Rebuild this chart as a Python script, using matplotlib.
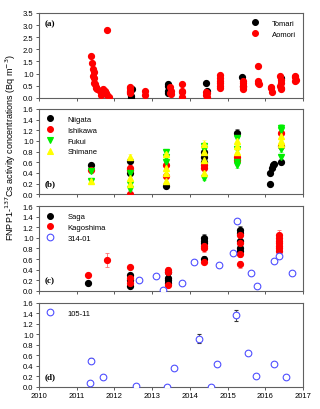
import numpy as np
import matplotlib
matplotlib.use('Agg')
import matplotlib.pyplot as plt
from matplotlib.lines import Line2D

plt.rcParams['font.family'] = ['Liberation Sans', 'DejaVu Sans']

# ---- panel (a) ----
tomari_x = [2012.44, 2012.45, 2012.46, 2013.41, 2013.42, 2013.43, 2013.42, 2014.44, 2014.45, 2015.39, 2015.40, 2016.41]
tomari_y = [0.00, 0.08, 0.35, 0.55, 0.50, 0.30, 0.20, 0.60, 0.30, 0.85, 0.50, 0.80]
tomari_e = [0.03, 0.03, 0.05, 0.05, 0.05, 0.04, 0.04, 0.05, 0.04, 0.06, 0.05, 0.06]

aomori_x = [2011.37, 2011.41, 2011.44, 2011.45, 2011.43, 2011.46, 2011.47, 2011.48, 2011.50, 2011.52,
            2011.55, 2011.62, 2011.65, 2011.70, 2011.75, 2011.78, 2011.80, 2011.85, 2011.80,
            2012.40, 2012.41, 2012.42, 2012.40, 2012.41, 2012.80, 2012.81,
            2013.48, 2013.49, 2013.48, 2013.50, 2013.79, 2013.80, 2013.79, 2013.80,
            2014.44, 2014.45, 2014.44, 2014.46,
            2014.80, 2014.81, 2014.80, 2014.81, 2014.80, 2014.81,
            2015.40, 2015.41, 2015.40, 2015.41, 2015.40,
            2015.81, 2015.80, 2015.81, 2015.82,
            2016.15, 2016.16, 2016.17,
            2016.40, 2016.41, 2016.42, 2016.40, 2016.41, 2016.42,
            2016.79, 2016.80, 2016.81, 2016.80]
aomori_y = [1.72, 1.45, 1.20, 1.05, 0.92, 0.80, 0.62, 0.55, 0.45, 0.40,
            0.35, 0.30, 0.10, 0.35, 0.30, 0.20, 0.12, 0.05, 2.80,
            0.45, 0.40, 0.30, 0.25, 0.20, 0.30, 0.10,
            0.45, 0.30, 0.20, 0.15, 0.55, 0.30, 0.25, 0.05,
            0.25, 0.20, 0.10, 0.05,
            0.95, 0.80, 0.70, 0.60, 0.50, 0.40,
            0.70, 0.60, 0.50, 0.45, 0.35,
            1.32, 0.70, 0.60, 0.55,
            0.45, 0.40, 0.25,
            0.90, 0.75, 0.60, 0.50, 0.40, 0.35,
            0.90, 0.85, 0.75, 0.70]
aomori_e = [0.06, 0.05, 0.05, 0.05, 0.05, 0.04, 0.04, 0.04, 0.04, 0.04,
            0.04, 0.04, 0.03, 0.04, 0.04, 0.03, 0.03, 0.03, 0.08,
            0.05, 0.04, 0.04, 0.04, 0.04, 0.04, 0.03,
            0.05, 0.04, 0.04, 0.04, 0.05, 0.04, 0.04, 0.03,
            0.04, 0.04, 0.03, 0.03,
            0.08, 0.06, 0.06, 0.05, 0.05, 0.05,
            0.06, 0.05, 0.05, 0.05, 0.04,
            0.09, 0.06, 0.05, 0.05,
            0.05, 0.05, 0.04,
            0.07, 0.06, 0.05, 0.05, 0.05, 0.04,
            0.07, 0.06, 0.06, 0.06]

# ---- panel (b) ----
niigata_x = [2011.37, 2012.42, 2012.42, 2013.37, 2014.37, 2014.37, 2014.38, 2015.26, 2016.12, 2016.13, 2016.19, 2016.20, 2016.22, 2016.41]
niigata_y = [0.55, 0.62, 0.40, 0.15, 0.80, 0.70, 0.60, 1.15, 0.20, 0.40, 0.50, 0.55, 0.57, 0.60]
niigata_e = [0.04, 0.04, 0.04, 0.03, 0.05, 0.05, 0.04, 0.08, 0.03, 0.04, 0.04, 0.04, 0.04, 0.04]

ishikawa_x = [2011.37, 2012.42, 2012.42, 2012.42, 2013.37, 2013.37, 2014.38, 2014.38, 2015.26, 2015.26, 2016.41, 2016.41]
ishikawa_y = [0.45, 0.50, 0.45, 0.00, 0.55, 0.35, 0.55, 0.50, 0.70, 0.65, 1.15, 0.90]
ishikawa_e = [0.04, 0.04, 0.04, 0.02, 0.05, 0.04, 0.05, 0.05, 0.06, 0.06, 0.07, 0.06]

fukui_x = [2011.37, 2011.37, 2012.42, 2012.42, 2012.42, 2013.37, 2013.37, 2013.37, 2014.38, 2014.38, 2014.38, 2015.26, 2015.26, 2015.26, 2015.26, 2016.41, 2016.41, 2016.41, 2016.41]
fukui_y = [0.43, 0.25, 0.40, 0.20, 0.10, 0.80, 0.70, 0.60, 0.90, 0.85, 0.30, 1.05, 0.85, 0.60, 0.55, 1.25, 1.20, 0.85, 0.70]
fukui_e = [0.04, 0.03, 0.04, 0.03, 0.03, 0.05, 0.05, 0.05, 0.06, 0.06, 0.04, 0.07, 0.06, 0.05, 0.05, 0.07, 0.07, 0.06, 0.05]

shimane_x = [2011.37, 2012.42, 2012.42, 2012.42, 2013.37, 2013.37, 2013.37, 2013.37, 2014.38, 2014.38, 2014.38, 2014.38, 2015.26, 2015.26, 2015.26, 2016.41, 2016.41, 2016.41]
shimane_y = [0.25, 0.70, 0.30, 0.20, 0.75, 0.50, 0.40, 0.25, 0.95, 0.80, 0.65, 0.40, 1.00, 0.90, 0.80, 1.10, 1.00, 0.95]
shimane_e = [0.03, 0.06, 0.04, 0.03, 0.05, 0.05, 0.04, 0.04, 0.06, 0.05, 0.05, 0.04, 0.07, 0.06, 0.06, 0.07, 0.07, 0.06]

# ---- panel (c) ----
saga_x = [2011.30, 2012.42, 2012.42, 2012.42, 2013.43, 2013.43, 2013.43, 2013.43, 2014.38, 2014.38, 2014.38, 2014.38,
          2015.33, 2015.33, 2015.33, 2015.33, 2015.33]
saga_y = [0.15, 0.30, 0.20, 0.10, 0.35, 0.25, 0.20, 0.15, 1.00, 0.95, 0.90, 0.60, 1.15, 1.10, 0.95, 0.80, 0.75]
saga_e = [0.03, 0.04, 0.03, 0.03, 0.05, 0.04, 0.04, 0.03, 0.07, 0.06, 0.06, 0.05, 0.08, 0.07, 0.07, 0.06, 0.06]

kago_x = [2011.30, 2011.79, 2012.42, 2012.42, 2012.42, 2013.43, 2013.43, 2013.43, 2014.38, 2014.38, 2014.38,
          2015.33, 2015.33, 2015.33, 2015.33, 2016.37, 2016.37, 2016.37, 2016.37, 2016.37, 2016.37, 2016.37]
kago_y = [0.30, 0.58, 0.45, 0.25, 0.15, 0.40, 0.35, 0.12, 0.85, 0.80, 0.55,
          1.05, 0.90, 0.70, 0.50, 1.05, 1.00, 0.95, 0.90, 0.85, 0.80, 0.75]
kago_e = [0.03, 0.13, 0.04, 0.03, 0.03, 0.05, 0.04, 0.03, 0.06, 0.06, 0.05,
          0.07, 0.07, 0.06, 0.06, 0.10, 0.07, 0.07, 0.06, 0.06, 0.06, 0.06]

st314_x = [2012.64, 2013.10, 2013.28, 2013.79, 2014.11, 2014.78, 2015.13, 2015.26, 2015.61, 2015.78, 2016.23, 2016.37, 2016.71]
st314_y = [0.20, 0.28, 0.02, 0.14, 0.54, 0.48, 0.72, 1.32, 0.33, 0.09, 0.57, 0.65, 0.33]

# ---- panel (d) ----
st105_x = [2011.35, 2011.38, 2011.70, 2012.58, 2013.39, 2013.58, 2014.23, 2014.56, 2014.73, 2015.22, 2015.55, 2015.75, 2016.23, 2016.54]
st105_y = [0.08, 0.50, 0.18, 0.01, 0.00, 0.36, 0.92, 0.00, 0.44, 1.36, 0.64, 0.20, 0.43, 0.19]
st105_e = [0.00, 0.05, 0.00, 0.00, 0.00, 0.03, 0.08, 0.00, 0.03, 0.10, 0.00, 0.00, 0.00, 0.00]

years = [2010, 2011, 2012, 2013, 2014, 2015, 2016, 2017]

fs = 5.5
ms = 4.2
frame = '#606060'
blue = '#5050ff'


def style(ax, ymax, ystep, show_x):
    ax.set_xlim(2010, 2017)
    ax.set_ylim(0, ymax)
    ax.set_xticks(years)
    ax.set_yticks(np.arange(0, ymax + 0.001, ystep))
    ax.yaxis.set_major_formatter(matplotlib.ticker.FormatStrFormatter('%.1f'))
    ax.tick_params(labelsize=fs, length=2.5, width=0.6, pad=1.5, color='#404040')
    if not show_x:
        ax.set_xticklabels([])
    for s in ax.spines.values():
        s.set_color(frame)
        s.set_linewidth(0.8)


def eb(ax, x, y, e, color, marker, ecolor):
    ax.errorbar(x, y, yerr=e, fmt=marker, color=color, ecolor=ecolor,
                ms=ms, mec=color, mfc=color, elinewidth=0.6,
                capsize=1.5, capthick=0.6, zorder=3)


def handle(marker, color, label, mfc=None, size=ms):
    return Line2D([], [], ls='none', marker=marker, ms=size, color=color,
                  mec=color, mfc=mfc or color, mew=0.8, label=label)


def legend(ax, handles, loc):
    ax.legend(handles=handles, loc=loc, fontsize=fs, frameon=False,
              handletextpad=1.6, labelspacing=0.45, borderaxespad=0.5,
              handlelength=1.2)


def panel_label(ax, text, top):
    ax.text(0.02, 0.93 if top else 0.08, text, transform=ax.transAxes,
            family='Liberation Serif', fontweight='bold', fontsize=6.5,
            va='top' if top else 'bottom', ha='left')


fig = plt.figure(figsize=(3.2, 4.1), dpi=100)
L, W = 0.122, 0.825
axa = fig.add_axes([L, 0.759, W, 0.207])
axb = fig.add_axes([L, 0.524, W, 0.208])
axc = fig.add_axes([L, 0.288, W, 0.207])
axd = fig.add_axes([L, 0.054, W, 0.205])

# (a)
eb(axa, tomari_x, tomari_y, tomari_e, 'black', 'o', '#555555')
eb(axa, aomori_x, aomori_y, aomori_e, 'red', 'o', '#ff6060')
style(axa, 3.5, 0.5, False)
panel_label(axa, '(a)', True)
legend(axa, [handle('o', 'black', 'Tomari'), handle('o', 'red', 'Aomori')], 'upper right')

# (b)
eb(axb, niigata_x, niigata_y, niigata_e, 'black', 'o', '#555555')
eb(axb, ishikawa_x, ishikawa_y, ishikawa_e, 'red', 'o', '#ff6060')
eb(axb, fukui_x, fukui_y, fukui_e, '#00ee00', 'v', '#80ff80')
eb(axb, shimane_x, shimane_y, shimane_e, '#ffff00', '^', '#ffff80')
style(axb, 1.6, 0.2, False)
panel_label(axb, '(b)', False)
legend(axb, [handle('o', 'black', 'Niigata'), handle('o', 'red', 'Ishikawa'),
             handle('v', '#00ee00', 'Fukui'), handle('^', '#ffff00', 'Shimane')], 'upper left')

# (c)
eb(axc, saga_x, saga_y, saga_e, 'black', 'o', '#555555')
eb(axc, kago_x, kago_y, kago_e, 'red', 'o', '#ff7070')
axc.plot(st314_x, st314_y, 'o', ms=ms + 0.6, mfc='white', mec=blue, mew=0.8, zorder=4)
style(axc, 1.6, 0.2, False)
panel_label(axc, '(c)', False)
legend(axc, [handle('o', 'black', 'Saga'), handle('o', 'red', 'Kagoshima'),
             handle('o', blue, '314-01', mfc='white', size=ms + 0.6)], 'upper left')

# (d)
axd.errorbar(st105_x, st105_y, yerr=st105_e, fmt='o', ms=ms + 0.6, mfc='white',
             mec=blue, mew=0.8, ecolor='#333333', elinewidth=0.6, capsize=1.5,
             capthick=0.6, zorder=3)
style(axd, 1.6, 0.2, True)
panel_label(axd, '(d)', False)
legend(axd, [handle('o', blue, '105-11', mfc='white', size=ms + 0.6)], 'upper left')

fig.text(0.035, 0.64, 'FNPP1-$^{137}$Cs activity concentrations (Bq m$^{-3}$)',
         rotation=90, va='center', ha='center', fontsize=6.5)

fig.savefig('out.png', dpi=100)
